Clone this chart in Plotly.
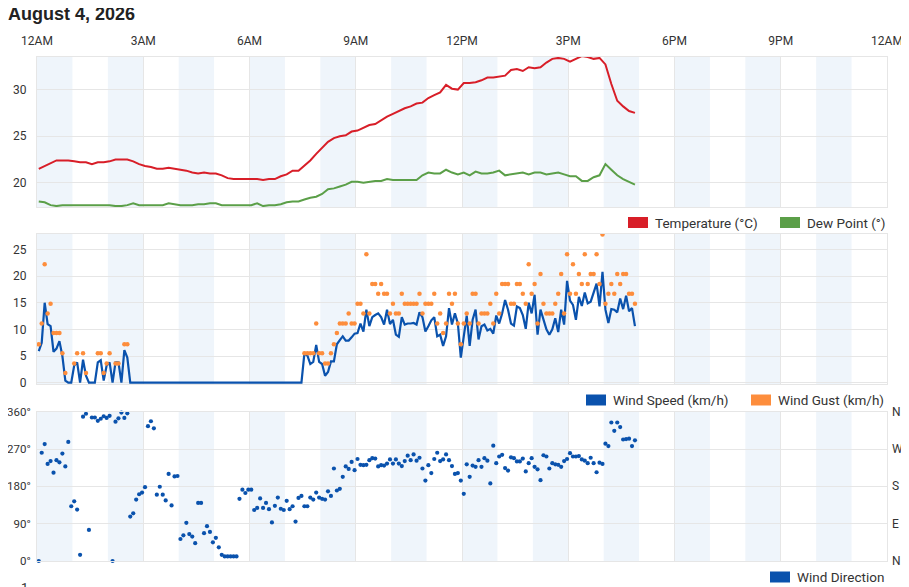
import pandas as pd
import plotly.graph_objects as go

# 5-minute wind samples, 10-minute temperature samples (°C / km/h / degrees)
wind_times = pd.date_range("2026-08-04 00:03", periods=203, freq="5min")
temp_times = pd.date_range("2026-08-04 00:03", periods=102, freq="10min")

temperature = [
    21.5, 21.8, 22.1, 22.4, 22.4, 22.4, 22.3, 22.2, 22.2, 22.0,
    22.2, 22.2, 22.3, 22.5, 22.5, 22.5, 22.3, 22.0, 21.8, 21.7,
    21.5, 21.5, 21.6, 21.5, 21.4, 21.3, 21.1, 21.0, 21.1, 21.0,
    21.0, 20.8, 20.5, 20.4, 20.4, 20.4, 20.4, 20.4, 20.3, 20.4,
    20.4, 20.7, 20.9, 21.3, 21.3, 21.8, 22.4, 23.1, 23.8, 24.4,
    24.8, 25.0, 25.1, 25.5, 25.6, 25.9, 26.2, 26.3, 26.7, 27.1,
    27.4, 27.7, 28.0, 28.2, 28.5, 28.6, 29.1, 29.4, 29.7, 30.5,
    30.1, 30.0, 30.7, 30.7, 30.8, 31.0, 31.3, 31.3, 31.4, 31.5,
    32.1, 32.2, 32.0, 32.4, 32.3, 32.4, 32.9, 33.3, 33.4, 33.3,
    33.0, 33.3, 33.6, 33.5, 33.3, 33.4, 32.7, 30.6, 28.8, 28.2,
    27.7, 27.5,
]
dew_point = [
    18.0, 17.9, 17.6, 17.5, 17.6, 17.6, 17.6, 17.6, 17.6, 17.6,
    17.6, 17.6, 17.6, 17.5, 17.5, 17.6, 17.8, 17.6, 17.6, 17.6,
    17.6, 17.6, 17.8, 17.7, 17.6, 17.6, 17.6, 17.7, 17.7, 17.8,
    17.8, 17.6, 17.6, 17.6, 17.6, 17.6, 17.6, 17.8, 17.5, 17.6,
    17.6, 17.7, 17.9, 18.0, 18.0, 18.2, 18.4, 18.5, 18.8, 19.3,
    19.4, 19.6, 19.8, 20.1, 20.1, 20.0, 20.1, 20.2, 20.2, 20.4,
    20.3, 20.3, 20.3, 20.3, 20.3, 20.8, 21.1, 21.0, 21.0, 21.4,
    21.1, 20.9, 21.1, 20.8, 21.2, 21.0, 21.0, 21.1, 21.3, 20.8,
    20.9, 21.0, 21.1, 20.9, 21.1, 21.1, 20.9, 21.0, 21.1, 20.9,
    20.7, 20.7, 20.2, 20.2, 20.6, 20.8, 22.0, 21.4, 20.8, 20.4,
    20.1, 19.8,
]

wind_speed = [
    5.9, 7.5, 15.0, 11.0, 10.6, 5.8, 6.4, 7.8, 5.0, 0.4,
    0, 0, 3.2, 3.8, 0, 4.3, 1.3, 0, 0, 0,
    3.8, 4.2, 0.4, 3.2, 3.8, 0, 3.8, 3.8, 0, 6.1,
    4.7, 0, 0, 0, 0, 0, 0, 0, 0, 0,
    0, 0, 0, 0, 0, 0, 0, 0, 0, 0,
    0, 0, 0, 0, 0, 0, 0, 0, 0, 0,
    0, 0, 0, 0, 0, 0, 0, 0, 0, 0,
    0, 0, 0, 0, 0, 0, 0, 0, 0, 0,
    0, 0, 0, 0, 0, 0, 0, 0, 0, 0,
    5.5, 5.1, 3.5, 3.9, 7.1, 3.9, 3.5, 1.3, 2.0, 4.0,
    4.0, 7.2, 8.0, 8.7, 7.9, 7.9, 8.5, 9.2, 9.3, 11.1,
    9.6, 13.7, 10.6, 12.3, 12.7, 13.0, 12.3, 10.9, 13.7, 11.0,
    11.8, 9.0, 8.6, 12.3, 10.9, 11.1, 11.1, 11.2, 10.9, 13.2,
    12.3, 9.6, 10.6, 11.7, 12.3, 8.7, 9.0, 6.9, 8.7, 14.0,
    10.9, 13.0, 11.1, 4.7, 8.7, 12.6, 6.9, 11.8, 13.7, 8.1,
    10.6, 10.9, 9.8, 10.1, 9.2, 12.6, 11.1, 13.0, 15.5, 13.7,
    11.1, 10.7, 14.3, 14.0, 12.7, 10.1, 15.0, 13.0, 16.5, 9.0,
    13.7, 11.8, 10.0, 9.0, 10.0, 12.1, 9.5, 13.7, 10.9, 19.1,
    15.4, 14.6, 11.8, 16.1, 14.4, 16.9, 14.9, 15.2, 16.8, 18.6,
    14.3, 20.8, 13.7, 11.2, 13.8, 13.7, 13.2, 15.8, 13.8, 16.3,
    13.4, 14.0, 10.6,
]

N = None
wind_gust = [
    7.2, 11.1, 22.2, 13.0, 14.8, 9.3, 9.3, 9.3, 5.5, 1.8,
    N, N, 3.6, 5.5, N, 5.5, 1.8, N, N, N,
    5.5, 5.5, 1.8, 3.6, 5.5, N, 3.6, 3.6, N, 7.2,
    7.2, N, N, N, N, N, N, N, N, N,
    N, N, N, N, N, N, N, N, N, N,
    N, N, N, N, N, N, N, N, N, N,
    N, N, N, N, N, N, N, N, N, N,
    N, N, N, N, N, N, N, N, N, N,
    N, N, N, N, N, N, N, N, N, N,
    5.5, 5.5, 5.5, 5.5, 11.1, 5.5, 5.5, 3.6, 3.6, 5.5,
    7.2, 9.3, 11.1, 11.1, 11.1, 13.0, 11.1, 11.1, 14.8, 14.8,
    13.0, 24.1, 13.0, 18.5, 18.5, 16.7, 18.5, 16.7, 16.7, 13.0,
    14.8, 13.0, 13.0, 16.7, 14.8, 14.8, 14.8, 14.8, 14.8, 16.7,
    13.0, 14.8, 14.8, 14.8, 16.7, 11.1, 13.0, 9.3, 11.1, 16.7,
    14.8, 16.7, 11.1, 7.2, 11.1, 13.0, 11.1, 16.7, 16.7, 11.1,
    13.0, 13.0, 13.0, 14.8, 11.1, 16.7, 13.0, 18.5, 18.5, 18.5,
    14.8, 14.8, 18.5, 18.5, 16.7, 14.8, 22.2, 16.7, 18.5, 11.1,
    20.4, 14.8, 13.0, 13.0, 13.0, 14.8, 16.7, 20.4, 13.0, 24.1,
    16.7, 22.2, 16.7, 20.4, 18.5, 24.1, 18.5, 20.4, 20.4, 24.1,
    18.5, 27.8, 14.8, 16.7, 18.5, 16.7, 20.4, 18.5, 20.4, 20.4,
    16.7, 16.7, 14.8,
]

wind_dir = [
    0, 261, 282, 234, 241, 213, 243, 238, 259, 228,
    287, 132, 144, 124, 15, 348, 355, 75, 346, 346,
    338, 343, 349, 345, 350, 0, 336, 344, 358, 345,
    356, 107, 115, 148, 161, 165, 178, 325, 337, 320,
    160, 179, 160, 146, 210, 134, 204, 205, 53, 62,
    92, 65, 59, 43, 140, 140, 67, 84, 70, 45,
    56, 33, 15, 11, 11, 11, 11, 11, 150, 172,
    164, 172, 172, 123, 128, 151, 128, 140, 125, 93,
    133, 153, 126, 123, 145, 125, 132, 95, 152, 157,
    132, 132, 153, 148, 165, 153, 150, 148, 168, 157,
    223, 170, 174, 203, 228, 222, 239, 219, 246, 232,
    231, 232, 243, 248, 247, 228, 231, 230, 235, 245,
    235, 245, 235, 229, 241, 254, 243, 257, 242, 249,
    223, 194, 231, 212, 246, 261, 241, 245, 257, 243,
    229, 210, 212, 194, 162, 233, 203, 230, 227, 243,
    227, 248, 242, 187, 278, 236, 252, 256, 224, 218,
    250, 248, 240, 240, 247, 216, 236, 248, 227, 221,
    195, 255, 252, 223, 236, 233, 232, 227, 241, 246,
    260, 252, 252, 253, 245, 242, 236, 249, 236, 214,
    237, 234, 283, 277, 334, 314, 334, 323, 293, 294,
    295, 277, 291,
]

dir_ticks = [0, 90, 180, 270, 360]
dir_labels = ["0°", "90°", "180°", "270°", "360°"]
compass_labels = ["N", "E", "S", "W", "N"]

RED = "#d81e28"
GREEN = "#5b9f48"
BLUE = "#0a52ad"
ORANGE = "#fd8d3c"
BAND = "#eff5fb"
GRID = "#e6e6e6"
TXT = "#333333"

# the page body has an 8px margin, so the figure is a bit smaller and
# reference pixel positions are shifted by it
OFF = 8
W, H = 909 - OFF, 587 - OFF
L, R, T, B = 37 - OFF, 22, 57 - OFF, 26
PW, PH = W - L - R, H - T - B


def px(x):
    return (x - OFF - L) / PW


def py(y):
    return (H - B - (y - OFF)) / PH


fig = go.Figure()
fig.add_trace(go.Scatter(x=temp_times, y=temperature, mode="lines",
                         line=dict(color=RED, width=2), xaxis="x", yaxis="y"))
fig.add_trace(go.Scatter(x=temp_times, y=dew_point, mode="lines",
                         line=dict(color=GREEN, width=2), xaxis="x", yaxis="y"))
fig.add_trace(go.Scatter(x=wind_times, y=wind_speed, mode="lines",
                         line=dict(color=BLUE, width=2.2), xaxis="x2", yaxis="y2"))
fig.add_trace(go.Scatter(x=wind_times, y=wind_gust, mode="markers",
                         marker=dict(color=ORANGE, size=4.5), xaxis="x2", yaxis="y2"))
fig.add_trace(go.Scatter(x=wind_times, y=wind_dir, mode="markers", cliponaxis=False,
                         marker=dict(color=BLUE, size=4.2), xaxis="x3", yaxis="y3"))

# alternating hour bands
shapes = []
for yr in ["y", "y2", "y3"]:
    for h in range(0, 24, 2):
        shapes.append(dict(type="rect", xref="x", yref=yr + " domain",
                           x0=pd.Timestamp("2026-08-04") + pd.Timedelta(hours=h),
                           x1=pd.Timestamp("2026-08-04") + pd.Timedelta(hours=h + 1),
                           y0=0, y1=1, fillcolor=BAND, line_width=0, layer="below"))

# legends drawn by hand (square swatches)
legend_items = [
    (628, 222.5, RED, "Temperature (°C)"),
    (780, 222.5, GREEN, "Dew Point (°)"),
    (586, 400, BLUE, "Wind Speed (km/h)"),
    (751, 400, ORANGE, "Wind Gust (km/h)"),
    (770, 577, BLUE, "Wind Direction"),
]
annotations = []
for x0, yc, col, label in legend_items:
    shapes.append(dict(type="rect", xref="paper", yref="paper",
                       x0=px(x0), x1=px(x0 + 20), y0=py(yc + 5.5), y1=py(yc - 5.5),
                       fillcolor=col, line_width=0))
    annotations.append(dict(text=label, xref="paper", yref="paper",
                            x=px(x0 + 25), y=py(yc), xanchor="left", yanchor="middle",
                            showarrow=False, font=dict(family="Roboto", size=13.5, color=TXT)))

# compass labels on the right of the direction panel
for val, lab in zip(dir_ticks, compass_labels):
    annotations.append(dict(text=lab, xref="paper", yref="y3", x=1, y=val,
                            xanchor="left", yanchor="middle", xshift=3, showarrow=False,
                            font=dict(family="Roboto", size=12, color=TXT)))

annotations.append(dict(text="1", xref="paper", yref="paper", x=px(30), y=py(578),
                        xanchor="right", yanchor="top", showarrow=False,
                        font=dict(family="Roboto", size=13, color=TXT)))

xcommon = dict(type="date", range=["2026-08-04 00:00", "2026-08-05 00:00"],
               dtick=3 * 3600 * 1000, tick0="2026-08-04 00:00",
               showgrid=True, gridcolor=GRID, gridwidth=1,
               showline=True, mirror=True, linecolor=GRID, linewidth=1,
               ticks="", zeroline=False, automargin=False)
ycommon = dict(showgrid=True, gridcolor=GRID, gridwidth=1, zeroline=False,
               showline=True, mirror=True, linecolor=GRID, linewidth=1, ticks="",
               automargin=False)

fig.update_layout(
    width=W, height=H,
    margin=dict(l=L, r=R, t=T, b=B, autoexpand=False),
    paper_bgcolor="white", plot_bgcolor="white",
    showlegend=False,
    title=dict(text="<b>August 4, 2026</b>", x=0, xanchor="left",
               y=1 - (14 - OFF) / H, yanchor="middle", automargin=False,
               font=dict(family="Liberation Sans", size=18, color="#222222")),
    xaxis=dict(**xcommon, anchor="y", side="top", tickformat="%-I%p",
               tickfont=dict(family="Roboto", size=12, color=TXT), ticklabelstandoff=6),
    xaxis2=dict(**xcommon, anchor="y2", matches="x", showticklabels=False),
    xaxis3=dict(**xcommon, anchor="y3", matches="x", showticklabels=False),
    yaxis=dict(**ycommon, domain=[py(207), 1], range=[17.4, 33.5],
               tickvals=[20, 25, 30], ticklabelstandoff=7,
               tickfont=dict(family="Roboto", size=12, color=TXT)),
    yaxis2=dict(**ycommon, domain=[py(384), py(234)], range=[-0.25, 27.9],
                dtick=5, ticklabelstandoff=7,
                tickfont=dict(family="Roboto", size=12, color=TXT)),
    yaxis3=dict(**ycommon, domain=[0, py(411.7)], range=[0, 360],
                tickvals=dir_ticks, ticktext=dir_labels, ticklabelstandoff=3,
                tickfont=dict(family="Roboto", size=11.5, color=TXT)),
    shapes=shapes,
    annotations=annotations,
)

fig.write_html("out.html")
